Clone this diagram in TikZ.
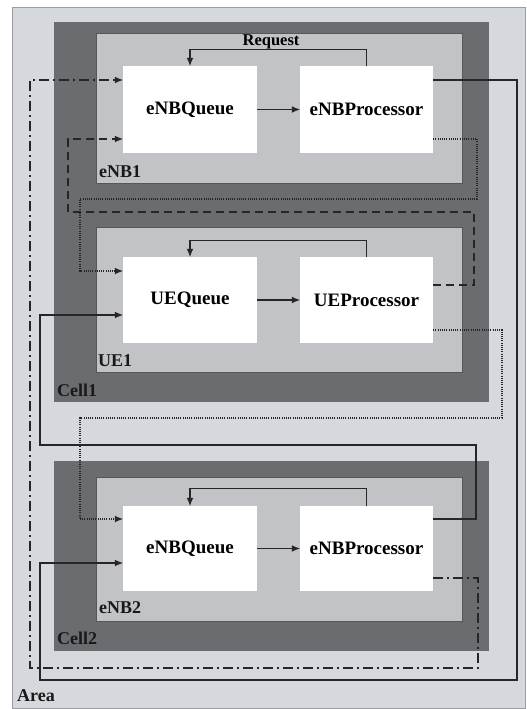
\documentclass[tikz,border=0pt]{standalone}
\usepackage{fontspec}
\setmainfont{Liberation Serif}
\usetikzlibrary{arrows.meta}
\definecolor{areabg}{HTML}{D5D8DC}
\definecolor{areaedge}{HTML}{9A9DA1}
\definecolor{cellbg}{HTML}{6A6C70}
\definecolor{unitbg}{HTML}{C1C3C6}
\definecolor{unitedge}{HTML}{55575B}
\definecolor{wire}{HTML}{262626}
\tikzset{
  areabox/.style={fill=areabg,draw=areaedge,line width=0.8pt},
  cellbox/.style={fill=cellbg,draw=none},
  unitbox/.style={fill=unitbg,draw=unitedge,line width=1pt},
  procbox/.style={fill=white,draw=none,minimum height=87pt,font=\bfseries\fontsize{19}{21}\selectfont,inner sep=0pt},
  lbl/.style={font=\bfseries\fontsize{18}{20}\selectfont,inner sep=0pt,anchor=west,text=black!90},
  wireline/.style={draw=wire,line width=1.2pt},
  arr/.style={wireline,-{Latex[length=8pt,width=6.5pt,line width=0pt]}},
  dashline/.style={dash pattern=on 8pt off 5pt},
  dashdotline/.style={dash pattern=on 10pt off 4pt on 2pt off 4pt},
  dotline/.style={dash pattern=on 1pt off 1.2pt,line width=1.6pt},
}
\begin{document}
\begin{tikzpicture}[x=1pt,y=-1pt]
\useasboundingbox (0,0) rectangle (527,709);
\fill[white] (0,0) rectangle (527,709);
% containers
\draw[areabox] (12,7) rectangle (525,708);
\fill[cellbox] (54,22) rectangle (489,402);
\fill[cellbox] (54,461) rectangle (489,651);
\draw[unitbox] (96,34) rectangle (462,183);
\draw[unitbox] (96,227) rectangle (462,372);
\draw[unitbox] (96,477) rectangle (462,621);
% component boxes
\node[procbox,minimum width=134pt] (q1) at (190,109.5) {eNBQueue};
\node[procbox,minimum width=133pt] (p1) at (366.5,109.5) {eNBProcessor};
\node[procbox,minimum width=134pt,minimum height=86pt] (ueq) at (190,300) {UEQueue};
\node[procbox,minimum width=133pt,minimum height=86pt] (uep) at (366.5,300) {UEProcessor};
\node[procbox,minimum width=134pt,minimum height=85pt] (q2) at (190,548.5) {eNBQueue};
\node[procbox,minimum width=133pt,minimum height=85pt] (p2) at (366.5,548.5) {eNBProcessor};
% labels
\node[lbl] (lenb1) at (99,172) {eNB1};
\node[lbl] (lue1) at (98,361) {UE1};
\node[lbl] (lcell1) at (57,390) {Cell1};
\node[lbl] (lenb2) at (99,608) {eNB2};
\node[lbl] (lcell2) at (57,638) {Cell2};
\node[lbl] (larea) at (17,696) {Area};
\node[font=\bfseries\fontsize{16.5}{18}\selectfont,inner sep=0pt] (lreq) at (271,42) {Request};
% internal arrows
\draw[arr] (q1.east) -- (p1.west);
\draw[arr] (ueq.east) -- (uep.west);
\draw[arr] (q2.east) -- (p2.west);
\draw[arr] (p1.north) -- ++(0,-16) -| (q1.north);
\draw[arr] (uep.north) -- ++(0,-16) -| (ueq.north);
\draw[arr] (p2.north) -- ++(0,-17) -| (q2.north);
% eNBProcessor1 -> eNBQueue2 (solid)
\draw[arr] (p1.east |- 0,80) -- (517,80) |- (40,680) |- (q2.west |- 0,563);
% eNBProcessor2 -> eNBQueue1 (dash dot)
\draw[arr,dashdotline] (p2.east |- 0,578) -- (478,578) |- (30,668) |- (q1.west |- 0,80);
% eNBProcessor2 -> UEQueue (solid)
\draw[arr] (p2.east |- 0,519) -- (476,519) |- (40,445) |- (ueq.west |- 0,315);
% UEProcessor -> eNBQueue1 (dashed)
\draw[arr,dashline] (uep.east |- 0,285) -- (474,285) |- (68,212) |- (q1.west |- 0,139);
% eNBProcessor1 -> UEQueue (dotted)
\draw[arr,dotline] (p1.east |- 0,139) -- (477,139) |- (80,199) |- (ueq.west |- 0,271);
% UEProcessor -> eNBQueue2 (dotted)
\draw[arr,dotline] (uep.east |- 0,330) -- (502,330) |- (80,418) |- (q2.west |- 0,519);
\end{tikzpicture}
\end{document}
